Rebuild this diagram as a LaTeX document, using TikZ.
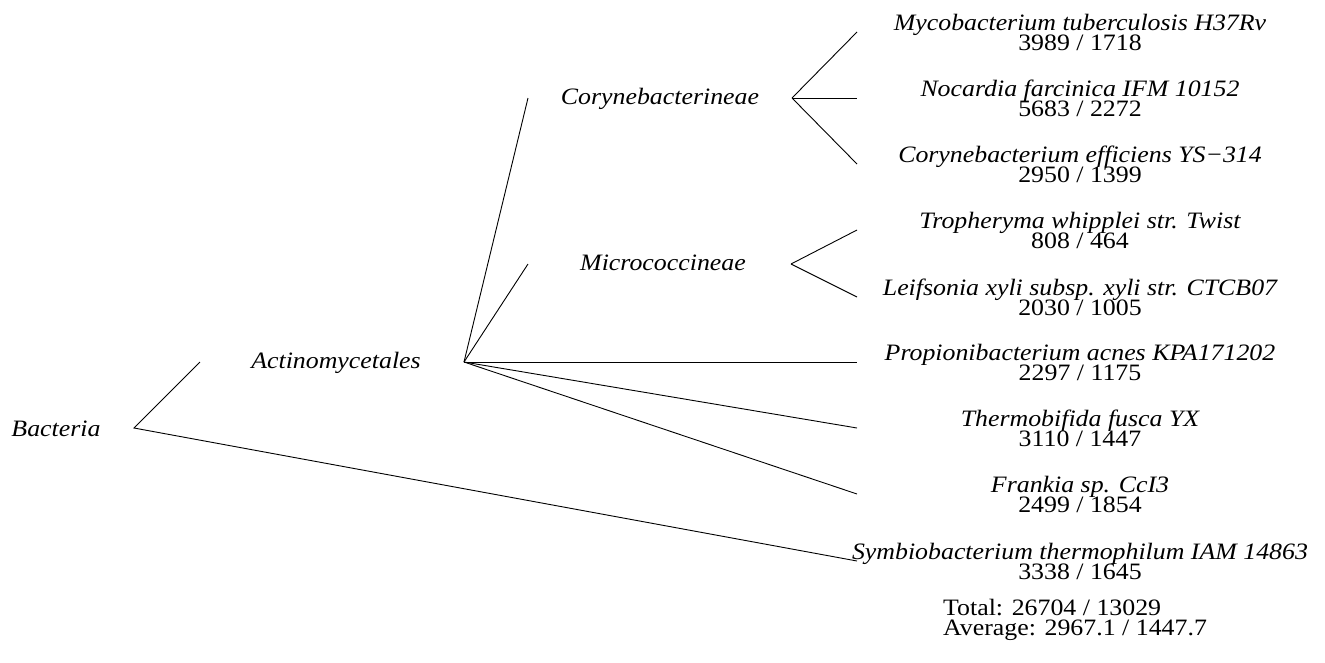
\documentclass[tikz,border=0pt]{standalone}
\usepackage{fontspec}
\setmainfont{Liberation Serif}
\usepackage{graphicx}
\newcommand{\hs}[1]{\scalebox{1.1}[1]{#1}}
\begin{document}
\begin{tikzpicture}[x=1pt,y=-1pt,
  lab/.style={inner sep=0pt, anchor=base, font=\fontsize{23.5}{20}\selectfont},
  branch/.style={line width=0.9pt, black}]
\useasboundingbox (0,0) rectangle (1325,662);
% internal labels
\node[lab] (bact) at (56,436) {\hs{\itshape Bacteria}};
\node[lab] (actino) at (336,368) {\hs{\itshape Actinomycetales}};
\node[lab] (coryne) at (660,104) {\hs{\itshape Corynebacterineae}};
\node[lab] (micro) at (663,270) {\hs{\itshape Micrococcineae}};
% tree vertices
\coordinate (vB) at (134,428);
\coordinate (eA) at (200,362);
\coordinate (vA) at (464,362);
\coordinate (eC) at (528,98);
\coordinate (vC) at (792,98);
\coordinate (eM) at (528,264);
\coordinate (vM) at (791,264);
% leaves
\foreach \i/\nm/\num/\yy in {
  1/Mycobacterium tuberculosis H37Rv/3989 {/} 1718/32,
  2/Nocardia farcinica IFM 10152/5683 {/} 2272/98,
  3/Corynebacterium efficiens YS−314/2950 {/} 1399/164,
  4/Tropheryma whipplei str. Twist/808 {/} 464/230,
  5/Leifsonia xyli subsp. xyli str. CTCB07/2030 {/} 1005/297,
  6/Propionibacterium acnes KPA171202/2297 {/} 1175/362,
  7/Thermobifida fusca YX/3110 {/} 1447/428,
  8/Frankia sp. CcI3/2499 {/} 1854/494,
  9/Symbiobacterium thermophilum IAM 14863/3338 {/} 1645/561}{
  \coordinate (e\i) at (857,\yy);
  \node[lab] (leaf\i) at (1080,\yy-2) {\hs{\itshape \nm}};
  \node[lab] (num\i) at (1080,\yy+18) {\hs{\num}};
}
\node[lab, anchor=base west, align=left] (total) at (943,615) {\hs{Total: 26704 / 13029}};
\node[lab, anchor=base west, align=left] (avg) at (943,635) {\hs{Average: 2967.1 / 1447.7}};
% branches
\draw[branch] (eA) -- (vB) -- (e9);
\draw[branch] (vA) -- (eC);
\draw[branch] (vA) -- (eM);
\draw[branch] (vA) -- (e6);
\draw[branch] (vA) -- (e7);
\draw[branch] (vA) -- (e8);
\draw[branch] (vC) -- (e1);
\draw[branch] (vC) -- (e2);
\draw[branch] (vC) -- (e3);
\draw[branch] (vM) -- (e4);
\draw[branch] (vM) -- (e5);
\end{tikzpicture}
\end{document}
